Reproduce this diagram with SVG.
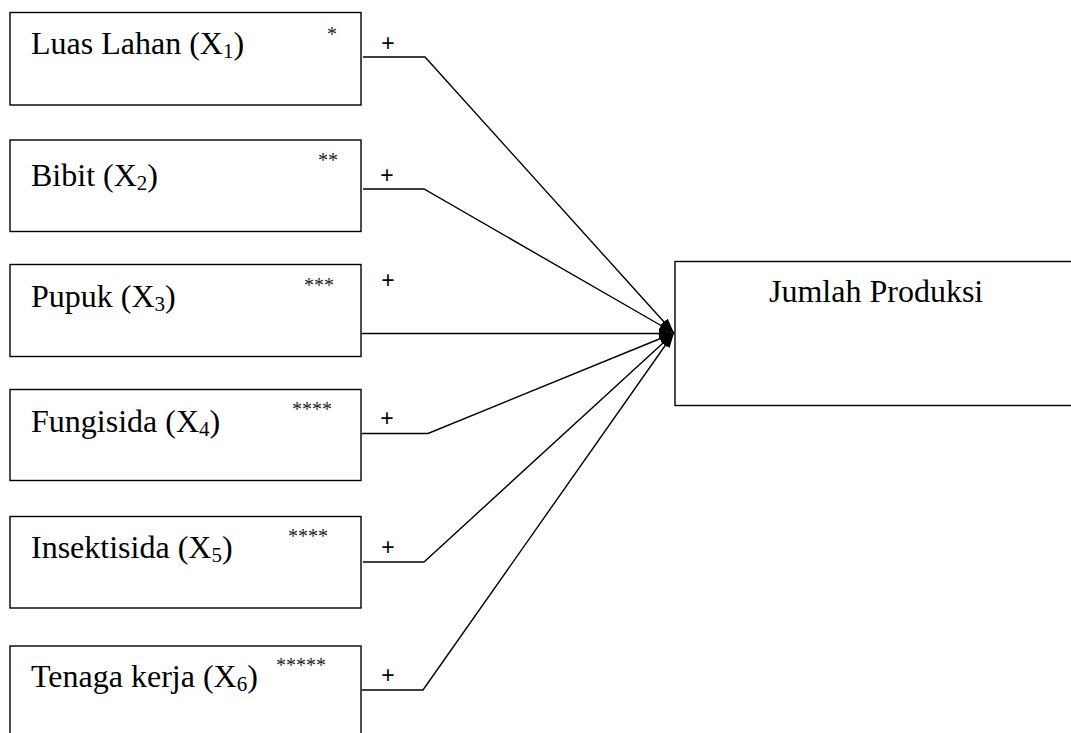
<svg xmlns="http://www.w3.org/2000/svg" width="1071" height="733" viewBox="0 0 1071 733">
<style>
.box{fill:#fff;stroke:#000;stroke-width:1.4}
.lbl{font-family:"Liberation Serif","Times New Roman",serif;font-size:32px;fill:#000}
.sub{font-size:21px}
.ast{font-family:"Liberation Serif","Times New Roman",serif;font-size:20px;fill:#222}
.plus{font-family:"Liberation Sans",Arial,sans-serif;font-size:23px;fill:#000;text-anchor:middle}
.con{fill:none;stroke:#000;stroke-width:1.4}
</style>
<defs>
<marker id="ah" markerUnits="userSpaceOnUse" markerWidth="15" markerHeight="10" refX="15" refY="5" orient="auto">
<path d="M0,0 L15,5 L0,10 z" fill="#000"/>
</marker>
</defs>
<rect width="1071" height="733" fill="#fff"/>
<g id="n1">
<rect class="box" x="10" y="12.5" width="351" height="92.5"/>
<text class="lbl" x="31" y="54">Luas Lahan (X<tspan class="sub" dy="4">1</tspan><tspan dy="-4">)</tspan></text>
<text class="ast" x="327" y="41">*</text>
</g>
<g id="n2">
<rect class="box" x="10" y="140" width="351" height="91.5"/>
<text class="lbl" x="31" y="186">Bibit (X<tspan class="sub" dy="4">2</tspan><tspan dy="-4">)</tspan></text>
<text class="ast" x="318" y="167">**</text>
</g>
<g id="n3">
<rect class="box" x="10" y="264.5" width="351" height="92"/>
<text class="lbl" x="31" y="307">Pupuk (X<tspan class="sub" dy="4">3</tspan><tspan dy="-4">)</tspan></text>
<text class="ast" x="304" y="292">***</text>
</g>
<g id="n4">
<rect class="box" x="10" y="389.5" width="351" height="91"/>
<text class="lbl" x="31" y="431.5">Fungisida (X<tspan class="sub" dy="4">4</tspan><tspan dy="-4">)</tspan></text>
<text class="ast" x="292" y="416">****</text>
</g>
<g id="n5">
<rect class="box" x="10" y="516.5" width="351" height="91.5"/>
<text class="lbl" x="31" y="558">Insektisida (X<tspan class="sub" dy="4">5</tspan><tspan dy="-4">)</tspan></text>
<text class="ast" x="288" y="543">****</text>
</g>
<g id="n6">
<rect class="box" x="10" y="646" width="351" height="100"/>
<text class="lbl" x="31" y="686.5">Tenaga kerja (X<tspan class="sub" dy="4">6</tspan><tspan dy="-4">)</tspan></text>
<text class="ast" x="276" y="672">*****</text>
</g>
<g id="target">
<rect class="box" x="675" y="261.5" width="420" height="144"/>
<text class="lbl" x="769" y="301.5">Jumlah Produksi</text>
</g>
<g id="connectors">
<polyline class="con" points="363,57 425,57 674,333" marker-end="url(#ah)"/>
<polyline class="con" points="363,189 424,189 674,333" marker-end="url(#ah)"/>
<polyline class="con" points="362,333.5 674,333.5" marker-end="url(#ah)"/>
<polyline class="con" points="362,433.5 428,433.5 674,333" marker-end="url(#ah)"/>
<polyline class="con" points="363,562 424,562 674,333" marker-end="url(#ah)"/>
<polyline class="con" points="362,690 423,690 674,333" marker-end="url(#ah)"/>
<text class="plus" x="388" y="51">+</text>
<text class="plus" x="387" y="183">+</text>
<text class="plus" x="388" y="288">+</text>
<text class="plus" x="387" y="426">+</text>
<text class="plus" x="388" y="555">+</text>
<text class="plus" x="388" y="683">+</text>
</g>
</svg>
